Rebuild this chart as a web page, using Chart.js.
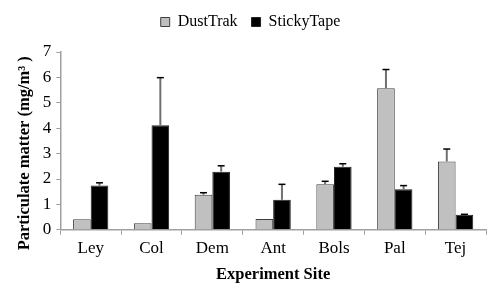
<!DOCTYPE html>
<html>
<head>
<meta charset="utf-8">
<script src="https://cdn.jsdelivr.net/npm/chart.js@4/dist/chart.umd.min.js"></script>
<style>
  html, body { margin: 0; padding: 0; background: #fff; }
  #wrap { width: 500px; height: 299px; }
</style>
</head>
<body>
<div id="wrap"><canvas id="chart" width="500" height="299"></canvas></div>
<script>
// Data
const sites = ['Ley', 'Col', 'Dem', 'Ant', 'Bols', 'Pal', 'Tej'];
const dustTrak = [0.42, 0.26, 1.38, 0.43, 1.79, 5.57, 2.69];
const dustTrakErr = [0, 0, 0.08, 0, 0.12, 0.74, 0.49];
const stickyTape = [1.74, 4.12, 2.29, 1.18, 2.48, 1.60, 0.59];
const stickyTapeErr = [0.11, 1.87, 0.23, 0.61, 0.12, 0.14, 0.02];
const yTicks = [0, 1, 2, 3, 4, 5, 6, 7];

const serif = '"Liberation Serif", "Times New Roman", serif';

// Upward-only error bars, drawn on top of the bars
const errorBarPlugin = {
    id: 'errorBars',
    afterDatasetsDraw(chart) {
        const ctx = chart.ctx;
        const yScale = chart.scales.y;
        chart.data.datasets.forEach((ds, i) => {
            const meta = chart.getDatasetMeta(i);
            meta.data.forEach((bar, j) => {
                const err = ds.errors[j];
                if (!err) return;
                const yTop = yScale.getPixelForValue(ds.data[j] + err);
                const yBar = yScale.getPixelForValue(ds.data[j]);
                ctx.save();
                ctx.strokeStyle = '#707070';
                ctx.lineWidth = 2;
                ctx.beginPath();
                ctx.moveTo(bar.x, yBar);
                ctx.lineTo(bar.x, yTop);
                ctx.stroke();
                ctx.strokeStyle = '#000';
                ctx.lineWidth = 1.5;
                ctx.beginPath();
                ctx.moveTo(bar.x - 3.5, yTop);
                ctx.lineTo(bar.x + 3.5, yTop);
                ctx.stroke();
                ctx.restore();
            });
        });
    }
};

// extra gap under the legend
const legendSpacer = {
    id: 'legendSpacer',
    beforeLayout(chart) {
        const legend = chart.legend;
        if (legend && !legend._spaced) {
            const fit = legend.fit;
            legend.fit = function () { fit.call(this); this.height += 12; };
            legend._spaced = true;
        }
    }
};

new Chart(document.getElementById('chart'), {
    type: 'bar',
    data: {
        labels: sites,
        datasets: [{
            label: 'DustTrak',
            data: dustTrak,
            errors: dustTrakErr,
            backgroundColor: '#c0c0c0',
            borderColor: '#404040',
            borderWidth: 1,
            categoryPercentage: 0.58,
            barPercentage: 1.0
        }, {
            label: 'StickyTape',
            data: stickyTape,
            errors: stickyTapeErr,
            backgroundColor: '#000000',
            borderColor: '#202020',
            borderWidth: 1,
            categoryPercentage: 0.58,
            barPercentage: 1.0
        }]
    },
    options: {
        responsive: false,
        animation: false,
        layout: { padding: { left: 15, right: 14, top: 0, bottom: 14 } },
        scales: {
            y: {
                min: 0,
                max: 7,
                afterBuildTicks: (axis) => { axis.ticks = yTicks.map(v => ({ value: v })); },
                border: { color: '#a0a0a0', width: 1.5 },
                grid: { drawOnChartArea: false, tickLength: 4, color: '#a0a0a0' },
                ticks: { color: '#000', padding: 5, font: { family: serif, size: 17 } },
                title: {
                    display: true,
                    // trailing spaces push the rotated title a little lower, as in the original
                    text: 'Particulate matter (mg/m\u00B3 )      ',
                    color: '#000',
                    padding: { top: 0, bottom: 3 },
                    font: { family: serif, size: 16.5, weight: 'bold' }
                }
            },
            x: {
                border: { color: '#a0a0a0', width: 1.5 },
                grid: { drawOnChartArea: false, offset: true, tickLength: 5, color: '#a0a0a0' },
                ticks: { color: '#000', padding: 4, font: { family: serif, size: 17 } },
                title: {
                    display: true,
                    text: 'Experiment Site',
                    color: '#000',
                    padding: { top: 2, bottom: 0 },
                    font: { family: serif, size: 16.5, weight: 'bold' }
                }
            }
        },
        plugins: {
            legend: {
                position: 'top',
                labels: {
                    color: '#000',
                    boxWidth: 9,
                    boxHeight: 9,
                    padding: 14,
                    font: { family: serif, size: 16 }
                }
            },
            tooltip: { enabled: false }
        }
    },
    plugins: [errorBarPlugin, legendSpacer]
});
</script>
</body>
</html>
